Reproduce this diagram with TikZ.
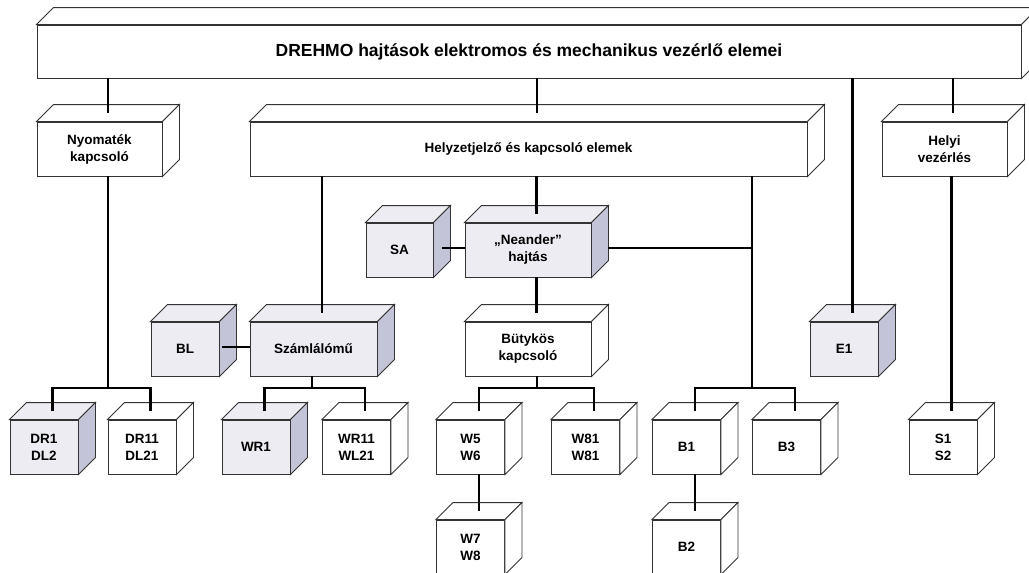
\documentclass[tikz,border=0pt]{standalone}
\usepackage{fontspec}
\setmainfont{Liberation Sans}

\definecolor{lapszin}{RGB}{236,236,242}
\definecolor{oldalszin}{RGB}{196,196,216}

\tikzset{
	doboz/.style={draw=black!80, line width=0.9pt, fill=white, inner sep=0pt,
		minimum width=68pt, minimum height=54pt, align=center,
		font=\bfseries\fontsize{13.5}{17}\selectfont},
	arnyek/.style={doboz, fill=lapszin},
	el/.style={draw=black!80, line width=0.9pt},
	vonal/.style={line width=2.6pt},
}

% top and side face of a box, plus the middle of its top face
\newcommand{\kockalap}[3]{%
	\filldraw[el, fill=#3] (#1.north west) -- ++(17,-17) -- ([shift={(17,-17)}]#1.north east) -- (#1.north east) -- cycle;
	\filldraw[el, fill=#2] (#1.north east) -- ([shift={(17,-17)}]#1.north east) -- ([shift={(17,-17)}]#1.south east) -- (#1.south east) -- cycle;
	\coordinate (#1-top) at ([shift={(8.5,-8.5)}]#1.north);
}

\begin{document}
\begin{tikzpicture}[x=1pt,y=-1pt]
	\useasboundingbox (0,0) rectangle (1029,573);
	\clip (0,0) rectangle (1029,573);
	\fill[white] (0,0) rectangle (1029,573);

	%MAIN
	\node[doboz, minimum width=984pt, minimum height=53pt, font=\bfseries\fontsize{17.5}{20}\selectfont] (drehmo) at (529,51.5) {DREHMO hajtások elektromos és mechanikus vezérlő elemei};

	%SECOND ROW
	\node[doboz, minimum width=125pt] (nyom) at (99.5,149) {Nyomaték\\kapcsoló};
	\node[doboz, minimum width=557pt] (helyzet) at (528.5,149) {Helyzetjelző és kapcsoló elemek};
	\node[doboz, minimum width=125pt] (helyi) at (944.5,149) {Helyi\\vezérlés};

	%THIRD ROW
	\node[arnyek, minimum width=67pt] (sa) at (399.5,250) {SA};
	\node[arnyek, minimum width=126pt] (neander) at (528,250) {„Neander''\\hajtás};

	%FOURTH ROW
	\node[arnyek] (bl) at (185,349) {BL};
	\node[arnyek, minimum width=127pt] (szaml) at (313.5,349) {Számlálómű};
	\node[doboz, minimum width=126pt] (buty) at (528,349) {Bütykös\\kapcsoló};
	\node[arnyek] (e1) at (844,349) {E1};

	%FIFTH ROW
	\node[arnyek] (dr1) at (44,447) {DR1\\DL2};
	\node[doboz] (dr11) at (142,447) {DR11\\DL21};
	\node[arnyek] (wr1) at (256,447) {WR1};
	\node[doboz] (wr11) at (356.5,447) {WR11\\WL21};
	\node[doboz] (w5) at (470.5,447) {W5\\W6};
	\node[doboz] (w81) at (585.5,447) {W81\\W81};
	\node[doboz] (b1) at (686.5,447) {B1};
	\node[doboz] (b3) at (786.5,447) {B3};
	\node[doboz] (s1) at (943,447) {S1\\S2};

	%SIXTH ROW
	\node[doboz] (w7) at (470.5,547) {W7\\W8};
	\node[doboz] (b2) at (686.5,547) {B2};

	%FACES
	\foreach \n in {drehmo,nyom,helyzet,helyi,buty,dr11,wr11,w5,w81,b1,b3,s1,w7,b2}
		\kockalap{\n}{white}{white};
	\foreach \n in {sa,neander,bl,szaml,e1,dr1,wr1}
		\kockalap{\n}{oldalszin}{lapszin};

	%BARS
	\coordinate (nyom-bar) at (108,388);
	\coordinate (szaml-bar) at (312,388);
	\coordinate (buty-bar) at (537,388);
	\coordinate (b-bar) at (752,388);
	\coordinate (nea-jobb) at ([shift={(17,-2)}]neander.east);
	\coordinate (sa-jobb) at ([shift={(9,-2)}]sa.east);
	\coordinate (bl-jobb) at ([shift={(3,-2)}]bl.east);

	%CONNECTORS
	\foreach \n in {nyom,helyzet,e1,helyi}
		\draw[vonal] (drehmo.south -| \n-top) -- (\n-top);

	\draw[vonal] (nyom-top |- nyom.south) -- (nyom-bar);
	\draw[vonal] (dr1-top) |- (nyom-bar) -| (dr11-top);

	\draw[vonal] (helyzet.south -| szaml-top) -- (szaml-top);
	\draw[vonal] (helyzet.south -| neander-top) -- (neander-top);
	\draw[vonal] (helyzet.south -| b-bar) -- (b-bar);
	\draw[vonal] (nea-jobb) -- (nea-jobb -| b-bar);
	\draw[vonal] (b1-top) |- (b-bar) -| (b3-top);
	\draw[vonal] (sa-jobb) -- (sa-jobb -| neander.west);

	\draw[vonal] (bl-jobb) -- (bl-jobb -| szaml.west);
	\draw[vonal] (szaml.south -| szaml-bar) -- (szaml-bar);
	\draw[vonal] (wr1-top) |- (szaml-bar) -| (wr11-top);

	\draw[vonal] (neander.south -| buty-top) -- (buty-top);
	\draw[vonal] (buty.south -| buty-bar) -- (buty-bar);
	\draw[vonal] (w5-top) |- (buty-bar) -| (w81-top);

	\draw[vonal] (w5-top |- w5.south) -- (w7-top);
	\draw[vonal] (b1-top |- b1.south) -- (b2-top);
	\draw[vonal] (helyi.south -| s1-top) -- (s1-top);
\end{tikzpicture}
\end{document}
